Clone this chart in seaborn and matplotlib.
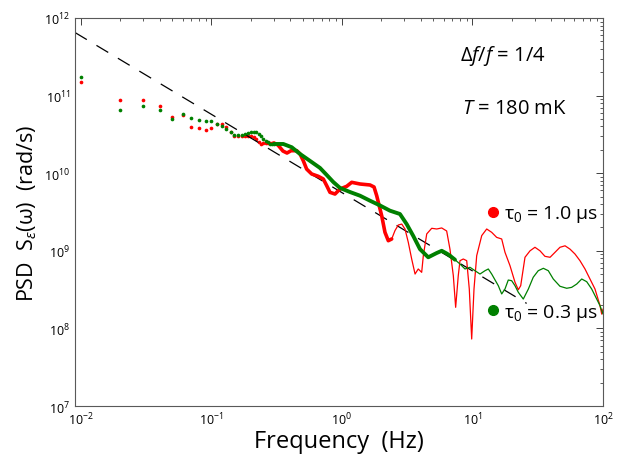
import matplotlib
matplotlib.use('Agg')
import matplotlib.pyplot as plt
import seaborn as sns
import pandas as pd
from matplotlib.lines import Line2D
from matplotlib.ticker import LogLocator, NullFormatter

# low-frequency FFT bins, drawn as separate dots (Hz)
f_dots = [0.01, 0.02, 0.03, 0.04, 0.05, 0.06, 0.07, 0.08, 0.09, 0.10,
          0.11, 0.12, 0.13, 0.14, 0.15, 0.16, 0.17, 0.18, 0.19, 0.20,
          0.21, 0.22, 0.23, 0.24, 0.25, 0.26, 0.27, 0.28, 0.29, 0.30]
red_dots = [1.50e11, 8.85e10, 8.85e10, 7.3e10, 5.35e10, 5.7e10, 3.97e10, 3.82e10, 3.60e10, 3.79e10,
            4.31e10, 4.27e10, 3.97e10, 3.37e10, 2.99e10, 2.99e10, 2.99e10, 2.99e10, 3.0e10, 3.05e10,
            2.93e10, 2.72e10, 2.52e10, 2.41e10, 2.45e10, 2.45e10, 2.45e10, 2.45e10, 2.45e10, 2.45e10]
green_dots = [1.72e11, 6.52e10, 7.28e10, 6.47e10, 4.99e10, 5.74e10, 5.15e10, 4.81e10, 4.71e10, 4.67e10,
              4.31e10, 4.02e10, 3.71e10, 3.37e10, 3.10e10, 3.10e10, 3.15e10, 3.20e10, 3.25e10, 3.40e10,
              3.43e10, 3.37e10, 3.20e10, 2.99e10, 2.76e10, 2.60e10, 2.49e10, 2.41e10, 2.38e10, 2.38e10]

# tau0 = 1.0 us (red): dense part (thick) and high-frequency part (thin)
red_mid_f = [0.30, 0.323, 0.353, 0.379, 0.407, 0.450, 0.477, 0.505, 0.536, 0.586,
             0.658, 0.719, 0.764, 0.809, 0.884, 0.966, 1.087, 1.187, 1.374, 1.64,
             1.76, 1.845, 2.015, 2.135, 2.264, 2.404]
red_mid = [2.45e10, 2.31e10, 1.93e10, 1.82e10, 1.95e10, 1.95e10, 1.77e10, 1.45e10, 1.13e10, 9.77e9,
           9.12e9, 8.42e9, 6.90e9, 5.67e9, 5.39e9, 6.26e9, 6.78e9, 7.63e9, 7.26e9, 7.05e9,
           6.64e9, 5.13e9, 2.83e9, 1.73e9, 1.35e9, 1.42e9]
red_hi_f = [2.404, 2.547, 2.70, 2.87, 3.04, 3.22, 3.42, 3.63, 3.84, 4.08,
            4.20, 4.46, 4.87, 5.32, 5.81, 6.34, 6.72, 7.13, 7.43, 7.78,
            8.02, 8.50, 9.03, 9.45, 9.86, 10.27, 10.77, 11.77, 12.85, 14.03,
            15.32, 16.74, 17.74, 19.38, 21.17, 22.44, 23.41, 25.25, 27.6, 30.1,
            32.9, 35.9, 39.3, 42.9, 46.8, 51.2, 55.9, 61.0, 66.6, 72.8,
            79.5, 86.8, 94.9, 97.7, 100]
red_hi = [1.42e9, 1.82e9, 2.15e9, 2.21e9, 1.91e9, 1.29e9, 7.84e8, 5.02e8, 5.83e8, 5.28e8,
          8.65e8, 1.65e9, 1.95e9, 1.91e9, 1.97e9, 1.80e9, 1.05e9, 4.78e8, 1.87e8, 4.78e8,
          7.46e8, 7.84e8, 7.46e8, 3.22e8, 7.30e7, 3.22e8, 8.65e8, 1.57e9, 1.91e9, 1.73e9,
          1.49e9, 1.42e9, 9.57e8, 6.43e8, 3.93e8, 3.15e8, 3.55e8, 8.25e8, 1.00e9, 1.11e9,
          1.00e9, 8.49e8, 8.25e8, 9.57e8, 1.11e9, 1.16e9, 1.05e9, 9.09e8, 7.46e8, 5.83e8,
          4.33e8, 3.22e8, 1.96e8, 1.53e8, 1.78e8]

# tau0 = 0.3 us (green)
green_mid_f = [0.30, 0.355, 0.412, 0.477, 0.569, 0.678, 0.764, 0.857, 0.966, 1.152,
               1.374, 1.64, 1.955, 2.33, 2.78, 3.13, 3.52, 3.96, 4.58, 5.32,
               5.81, 6.34, 6.72, 7.34]
green_mid = [2.38e10, 2.38e10, 2.16e10, 1.77e10, 1.44e10, 1.17e10, 9.48e9, 7.71e9, 6.45e9, 5.72e9,
             5.13e9, 4.42e9, 3.84e9, 3.29e9, 2.98e9, 2.21e9, 1.55e9, 1.05e9, 8.25e8, 9.37e8,
             1.00e9, 9.23e8, 8.65e8, 7.68e8]
green_hi_f = [7.34, 8.02, 8.76, 9.57, 10.45, 11.41, 12.47, 13.22, 14.03, 15.77,
              16.74, 17.74, 18.8, 19.96, 21.17, 22.44, 24.5, 26.8, 29.2, 31.9,
              34.9, 38.1, 41.6, 46.8, 52.7, 57.5, 62.9, 68.7, 75.0, 81.9,
              89.5, 94.9, 100]
green_hi = [7.68e8, 6.76e8, 5.83e8, 6.13e8, 5.54e8, 5.02e8, 5.54e8, 5.83e8, 5.02e8, 3.55e8,
            2.78e8, 3.22e8, 4.20e8, 4.12e8, 3.55e8, 2.92e8, 2.39e8, 3.22e8, 4.56e8, 5.54e8,
            5.95e8, 5.54e8, 4.33e8, 3.49e8, 3.29e8, 3.38e8, 3.73e8, 4.33e8, 4.00e8, 3.22e8,
            2.39e8, 1.96e8, 1.53e8]

# 1/f guide line (end points)
guide_f = [0.009, 26.0]
guide_psd = [6.5e11, 2.1e8]

RED = '#ff0000'
GREEN = '#008000'

sns.set_style('white')
plt.rcParams['font.family'] = ['Open Sans', 'DejaVu Sans']
plt.rcParams['mathtext.fontset'] = 'custom'
plt.rcParams['mathtext.rm'] = 'Open Sans'
plt.rcParams['mathtext.it'] = 'Open Sans:italic'
plt.rcParams['text.color'] = 'black'
plt.rcParams['axes.labelcolor'] = 'black'

fig = plt.figure(figsize=(6.25, 4.6), dpi=100)
ax = fig.add_axes([0.12, 0.1152, 0.8448, 0.8435])
ax.set_xscale('log')
ax.set_yscale('log')

sns.lineplot(x=guide_f, y=guide_psd, color='black', linewidth=0.9, ax=ax)
ax.lines[-1].set_dashes((11, 9))

sns.scatterplot(x=f_dots, y=red_dots, color=RED, s=7, linewidth=0, ax=ax)
sns.scatterplot(x=f_dots, y=green_dots, color=GREEN, s=7, linewidth=0, ax=ax)

sns.lineplot(x=red_mid_f, y=red_mid, color=RED, linewidth=2.6, sort=False, estimator=None, ax=ax)
sns.lineplot(x=red_hi_f, y=red_hi, color=RED, linewidth=0.9, sort=False, estimator=None, ax=ax)
sns.lineplot(x=green_mid_f, y=green_mid, color=GREEN, linewidth=2.8, sort=False, estimator=None, ax=ax)
sns.lineplot(x=green_hi_f, y=green_hi, color=GREEN, linewidth=0.9, sort=False, estimator=None, ax=ax)

ax.set_xlim(0.009, 100)
ax.set_ylim(1e7, 1e12)

for axis in (ax.xaxis, ax.yaxis):
    axis.set_major_locator(LogLocator(base=10, numticks=20))
    axis.set_minor_locator(LogLocator(base=10, subs=range(2, 10), numticks=100))
    axis.set_minor_formatter(NullFormatter())
ax.tick_params(which='both', direction='in', top=True, right=True, colors='0.25', labelsize=9)
ax.tick_params(which='major', length=5, width=0.7)
ax.tick_params(which='minor', length=2.5, width=0.6)
ax.tick_params(labelcolor='black')
for s in ax.spines.values():
    s.set_color('0.35')
    s.set_linewidth(0.8)

ax.set_xlabel('Frequency  (Hz)', fontsize=17, labelpad=1)
ax.set_ylabel(r'PSD  S$_{\varepsilon}$(ω)  (rad/s)', fontsize=15.5, labelpad=4)

ax.text(0.729, 0.905, r'Δ$f$/$f$ = 1/4', transform=ax.transAxes, fontsize=14.5, va='center')
ax.text(0.733, 0.768, r'$T$ = 180 mK', transform=ax.transAxes, fontsize=14.5, va='center')

h_red = Line2D([], [], marker='o', ls='none', color=RED, markersize=7)
h_green = Line2D([], [], marker='o', ls='none', color=GREEN, markersize=7)
leg1 = ax.legend([h_red], [r'τ$_0$ = 1.0 μs'], loc='center left', bbox_to_anchor=(0.776, 0.495),
                 frameon=False, fontsize=14, handlelength=0.8, handletextpad=0.2,
                 borderpad=0, borderaxespad=0)
ax.add_artist(leg1)
ax.legend([h_green], [r'τ$_0$ = 0.3 μs'], loc='center left', bbox_to_anchor=(0.776, 0.242),
          frameon=False, fontsize=14, handlelength=0.8, handletextpad=0.2,
          borderpad=0, borderaxespad=0)

fig.savefig('out.png', dpi=100)
